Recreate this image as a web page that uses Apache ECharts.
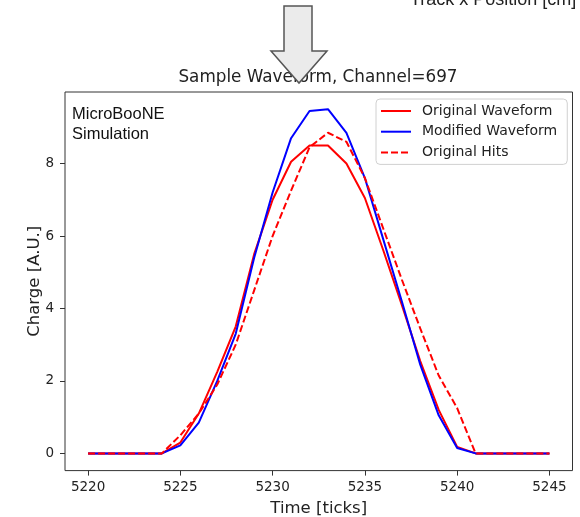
<!DOCTYPE HTML>
<html>
<head>
  <meta http-equiv="Content-Type" content="text/html,charset=utf-8"/>
  <title>Sample Waveform</title>
  <script type="text/javascript" src="https://cdn.jsdelivr.net/npm/echarts@6/dist/echarts.min.js"></script>
  <style>
    html, body { margin: 0; padding: 0; background: #fff; }
    #container { width: 580px; height: 517px; }
  </style>
</head>
<body>
  <div id="container"></div>
  <script type="text/javascript">
    // time ticks (x) and the three waveforms
    var times = [5220, 5221, 5222, 5223, 5224, 5225, 5226, 5227, 5228, 5229, 5230, 5231, 5232,
                 5233, 5234, 5235, 5236, 5237, 5238, 5239, 5240, 5241, 5242, 5243, 5244, 5245];
    var originalWaveform = [0, 0, 0, 0, 0, 0.3, 1.1, 2.25, 3.5, 5.5, 7.0, 8.05, 8.5,
                            8.5, 8.0, 7.05, 5.6, 4.1, 2.55, 1.2, 0.18, 0, 0, 0, 0, 0];
    var modifiedWaveform = [0, 0, 0, 0, 0, 0.22, 0.85, 2.0, 3.3, 5.4, 7.2, 8.7, 9.45,
                            9.5, 8.85, 7.6, 5.9, 4.2, 2.45, 1.05, 0.15, 0, 0, 0, 0, 0];
    var originalHits = [0, 0, 0, 0, 0, 0.5, 1.1, 1.9, 3.0, 4.5, 6.0, 7.25, 8.45,
                        8.85, 8.6, 7.6, 6.2, 4.8, 3.45, 2.15, 1.25, 0, 0, 0, 0, 0];

    var xTicks = [5220, 5225, 5230, 5235, 5240, 5245];
    var yTicks = [0, 2, 4, 6, 8];

    function pairs(xs, ys) {
      var out = [];
      for (var i = 0; i < xs.length; i++) out.push([xs[i], ys[i]]);
      return out;
    }
    // plain numbers, no thousands separator
    function plain(v) { return String(v); }

    var font = 'DejaVu Sans';
    var dom = document.getElementById('container');
    var myChart = echarts.init(dom, null, { renderer: 'canvas' });

    var option = {
      animation: false,
      title: {
        text: 'Sample Waveform, Channel=697',
        left: 318,
        top: 69,
        textAlign: 'center',
        padding: 0,
        textStyle: { fontFamily: font, fontSize: 16.8, fontWeight: 'normal', color: '#222' }
      },
      grid: {
        left: 65, right: 7.5, top: 92, bottom: 46.4,
        outerBoundsMode: 'none',
        show: true, borderColor: '#333', borderWidth: 1, backgroundColor: 'transparent'
      },
      legend: {
        orient: 'vertical',
        left: 376,
        top: 99,
        padding: [5, 10, 5, 4],
        itemWidth: 30,
        itemHeight: 14,
        itemGap: 6.7,
        itemStyle: { opacity: 0 },
        backgroundColor: 'rgba(255,255,255,0.85)',
        borderColor: '#d0d0d0',
        borderWidth: 1,
        borderRadius: 4,
        textStyle: { fontFamily: font, fontSize: 14, color: '#222', padding: [0, 0, 0, 6] },
        data: ['Original Waveform', 'Modified Waveform', 'Original Hits']
      },
      xAxis: {
        type: 'value',
        min: 5218.75,
        max: 5246.25,
        name: 'Time [ticks]',
        nameLocation: 'middle',
        nameGap: 30,
        nameMoveOverlap: false,
        nameTextStyle: { fontFamily: font, fontSize: 16.5, color: '#222' },
        axisLine: { show: false, onZero: false },
        splitLine: { show: false },
        axisTick: { show: true, inside: false, length: 5, customValues: xTicks,
                    lineStyle: { color: '#333', width: 1 } },
        axisLabel: { customValues: xTicks, formatter: plain, margin: 10,
                     fontFamily: font, fontSize: 13.5, color: '#222' }
      },
      yAxis: {
        type: 'value',
        min: -0.475,
        max: 9.975,
        name: 'Charge [A.U.]',
        nameLocation: 'middle',
        nameGap: 22,
        nameMoveOverlap: false,
        nameTextStyle: { fontFamily: font, fontSize: 16.5, color: '#222' },
        axisLine: { show: false, onZero: false },
        splitLine: { show: false },
        axisTick: { show: true, inside: false, length: 5, customValues: yTicks,
                    lineStyle: { color: '#333', width: 1 } },
        axisLabel: { customValues: yTicks, formatter: plain, margin: 11,
                     fontFamily: font, fontSize: 13.5, color: '#222' }
      },
      series: [
        {
          name: 'Original Waveform',
          type: 'line',
          symbol: 'none',
          data: pairs(times, originalWaveform),
          lineStyle: { color: '#ff0000', width: 2 },
          itemStyle: { color: '#ff0000' },
          z: 2
        },
        {
          name: 'Modified Waveform',
          type: 'line',
          symbol: 'none',
          data: pairs(times, modifiedWaveform),
          lineStyle: { color: '#0000ff', width: 2 },
          itemStyle: { color: '#0000ff' },
          z: 3
        },
        {
          name: 'Original Hits',
          type: 'line',
          symbol: 'none',
          data: pairs(times, originalHits),
          lineStyle: { color: '#ff0000', width: 2, type: [7, 3] },
          itemStyle: { color: '#ff0000' },
          z: 4
        }
      ],
      graphic: [
        {
          // label text inside the frame
          type: 'text',
          left: 72,
          top: 104,
          style: {
            text: 'MicroBooNE\nSimulation',
            fontFamily: 'Liberation Sans',
            fontSize: 16.5,
            lineHeight: 20,
            fill: '#111'
          }
        },
        {
          // cut-off axis label of the plot above
          type: 'text',
          x: 410,
          y: 0,
          style: {
            text: 'Track x Position [cm]',
            fontFamily: 'Liberation Sans',
            fontSize: 18,
            fill: '#222',
            verticalAlign: 'middle'
          }
        },
        {
          // the grey down arrow over the title
          type: 'polygon',
          z: 100,
          shape: {
            points: [[284, 6], [312, 6], [312, 51], [327, 51], [299, 83], [271, 51], [284, 51]]
          },
          style: { fill: '#ebebeb', stroke: '#555', lineWidth: 1.5 }
        }
      ]
    };

    myChart.setOption(option, true);
  </script>
</body>
</html>
